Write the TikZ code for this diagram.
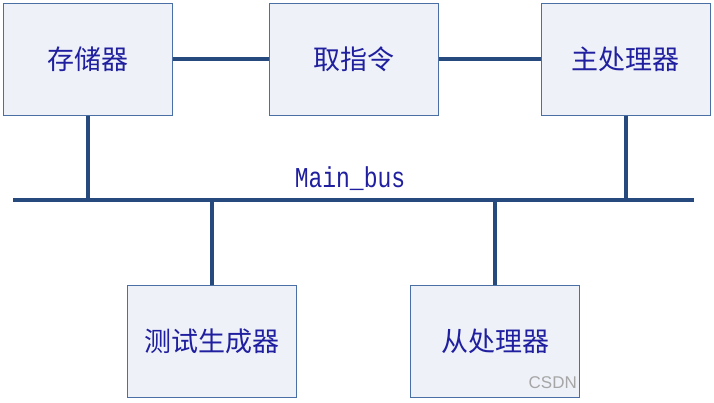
\documentclass[tikz,border=0pt]{standalone}
\usepackage{fontspec}
\newfontfamily\cjk{Noto Sans CJK SC}
\newfontfamily\monof{Liberation Mono}
\newfontfamily\sansf{Liberation Sans}
\definecolor{boxfill}{HTML}{EEF1F7}
\definecolor{boxline}{HTML}{4A6FA5}
\definecolor{busline}{HTML}{264A7E}
\definecolor{txt}{HTML}{1F1F9F}
\begin{document}
\begin{tikzpicture}[x=1pt,y=-1pt,
  blk/.style={draw=boxline, fill=boxfill, line width=1pt, minimum width=169pt, minimum height=112pt, inner sep=0pt, text=txt, font=\cjk\fontsize{27}{30}\selectfont},
  bus/.style={draw=busline, line width=4pt},
]
\useasboundingbox (0,0) rectangle (714,402);
\node[blk] (mem) at (87.5,59) {存储器};
\node[blk] (fetch) at (353.5,59) {取指令};
\node[blk] (main) at (625.5,59) {主处理器};
\node[blk] (test) at (212,341.5) {测试生成器};
\node[blk] (slave) at (495,341.5) {从处理器};
\coordinate (busL) at (13,200);
\coordinate (busR) at (694,200);
\draw[bus] (busL) -- (busR);
\node[text=txt, font=\monof\fontsize{23}{26}\selectfont, inner sep=0pt, yscale=1.25] (buslbl) at (350,179) {Main\_bus};
\draw[bus] (mem.east) -- (fetch.west);
\draw[bus] (fetch.east) -- (main.west);
\draw[bus] (mem.south) -- (mem.south |- busL);
\draw[bus] (main.south) -- (main.south |- busL);
\draw[bus] (test.north) -- (test.north |- busL);
\draw[bus] (slave.north) -- (slave.north |- busL);
\node[text=black!35, font=\sansf\fontsize{17}{19}\selectfont, inner sep=0pt, anchor=east] (wm) at (577,383) {CSDN};
\end{tikzpicture}
\end{document}
